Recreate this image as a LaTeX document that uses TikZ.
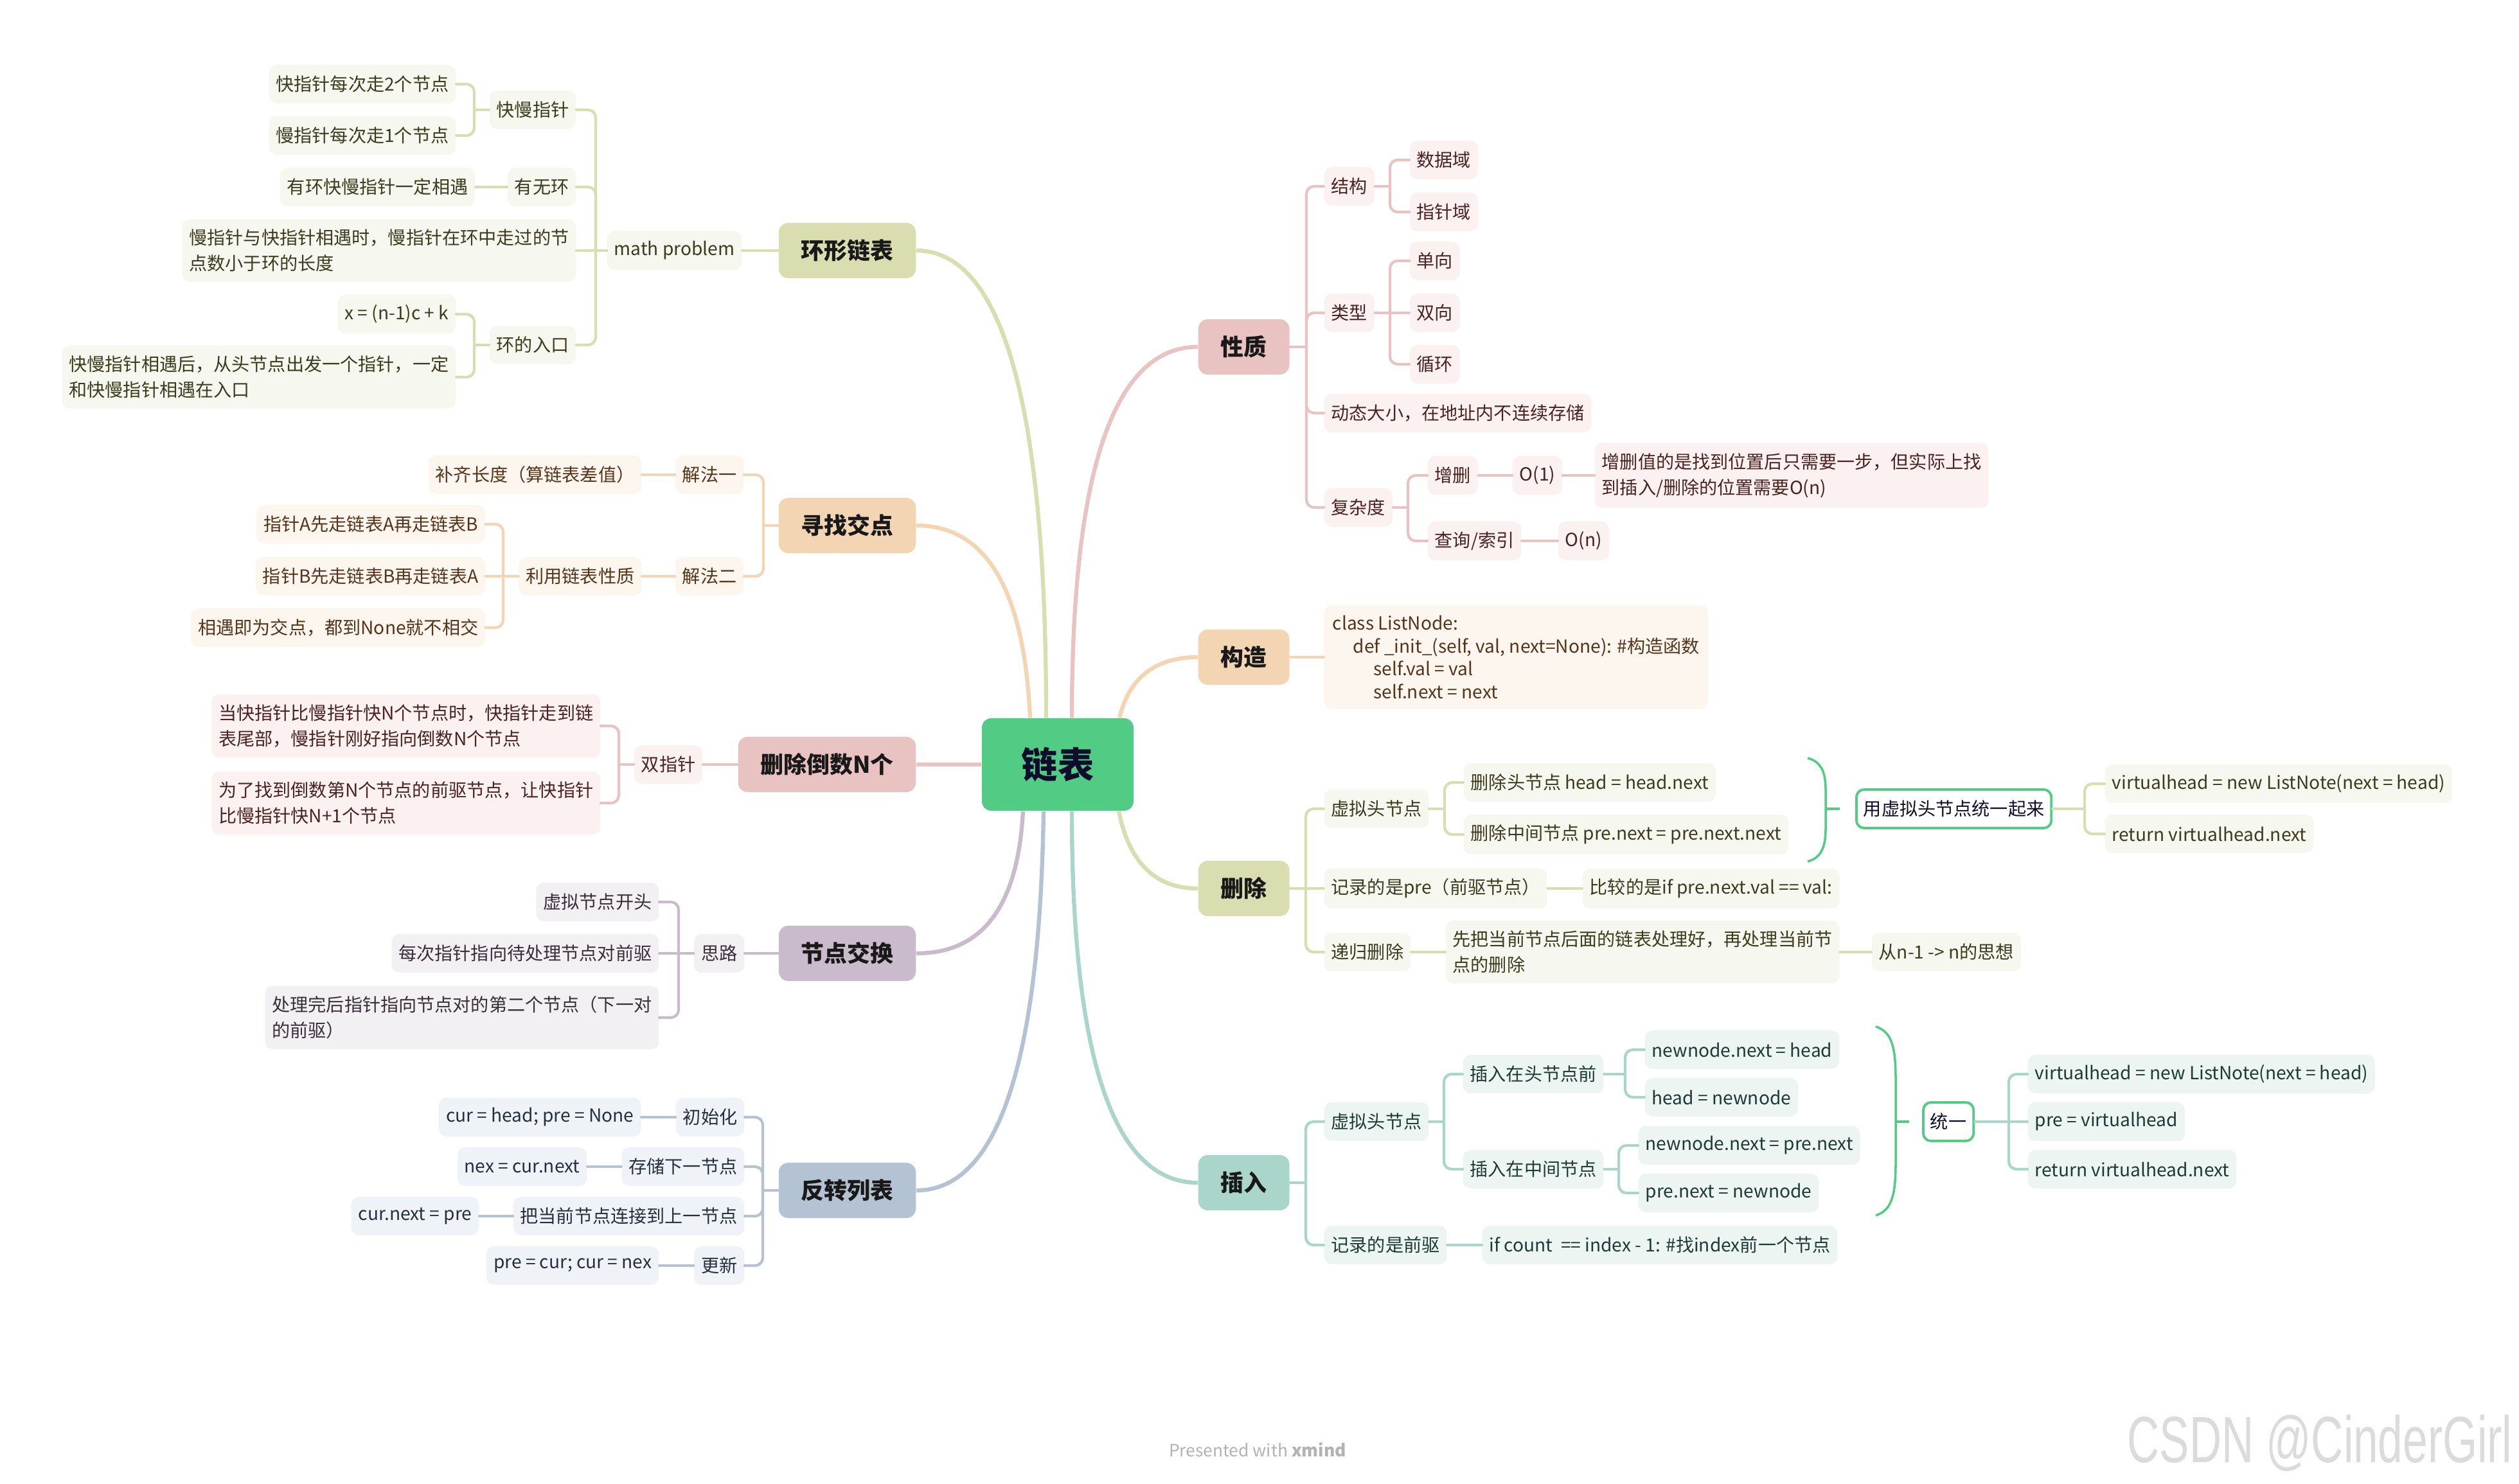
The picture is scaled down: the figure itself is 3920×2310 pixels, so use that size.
\documentclass[tikz,border=0pt]{standalone}
\usepackage{fontspec}
\setmainfont{Noto Sans CJK SC}
\newfontfamily\wmfont{Liberation Sans}

\definecolor{rootgreen}{HTML}{52CC85}
\definecolor{rootink}{HTML}{0E0E2C}
\definecolor{olmain}{HTML}{DADDAF}
\definecolor{olsub}{HTML}{F6F7EE}
\definecolor{olink}{HTML}{3C3B1E}
\definecolor{pemain}{HTML}{F3D5B4}
\definecolor{pesub}{HTML}{FDF6EF}
\definecolor{peink}{HTML}{55351A}
\definecolor{romain}{HTML}{E8C3C2}
\definecolor{rosub}{HTML}{FBF1F0}
\definecolor{roink}{HTML}{4B2222}
\definecolor{mvmain}{HTML}{C9BBCB}
\definecolor{mvsub}{HTML}{F3F0F3}
\definecolor{mvink}{HTML}{3A2D3A}
\definecolor{blmain}{HTML}{B3C3D4}
\definecolor{blsub}{HTML}{EFF2F6}
\definecolor{blink}{HTML}{243040}
\definecolor{temain}{HTML}{A9D5CB}
\definecolor{tesub}{HTML}{EDF5F3}
\definecolor{teink}{HTML}{1D3A33}

\tikzset{
    root/.style={rounded corners=0.15cm, fill=rootgreen, text=rootink, font=\bfseries\fontsize{16}{18}\selectfont, minimum width=2.36cm, minimum height=1.44cm},
    topic/.style={rounded corners=0.15cm, minimum height=0.86cm, inner xsep=0.35cm, font=\bfseries\fontsize{10.2}{12}\selectfont, text=black!90},
    leaf/.style={rounded corners=0.12cm, minimum height=0.6cm, inner xsep=0.11cm, inner ysep=0.16cm, font=\fontsize{8}{11.3}\selectfont, align=left},
    summ/.style={leaf, fill=white, draw=rootgreen, line width=1.1pt, text=rootink},
    bough/.style={line width=1.8pt},
    twig/.style={line width=1.2pt, rounded corners=0.12cm, line cap=round},
    brace/.style={draw=rootgreen, line width=1pt},
    olleaf/.style={leaf, fill=olsub, text=olink},
    peleaf/.style={leaf, fill=pesub, text=peink},
    roleaf/.style={leaf, fill=rosub, text=roink},
    mvleaf/.style={leaf, fill=mvsub, text=mvink},
    blleaf/.style={leaf, fill=blsub, text=blink},
    teleaf/.style={leaf, fill=tesub, text=teink},
    olline/.style={twig, draw=olmain},
    peline/.style={twig, draw=pemain},
    roline/.style={twig, draw=romain},
    mvline/.style={twig, draw=mvmain},
    blline/.style={twig, draw=blmain},
    teline/.style={twig, draw=temain},
}

\begin{document}
\begin{tikzpicture}[x=0.01cm, y=-0.01cm]
        \useasboundingbox (0,0) rectangle (3920,2310);
        \node[root] (root) at (1646,1190) {链表};

        % Left half: nodes hang from their right edge.
        \begin{scope}[every node/.append style={anchor=east}]
            % 环形链表
            \node[topic, fill=olmain] (hxlb) at (1426,390) {环形链表};
            \node[olleaf] (hxmath) at (1155,390) {math problem};
            \node[olleaf] (hxkm) at (897,171) {快慢指针};
            \node[olleaf] (hxkm2) at (710,131) {快指针每次走2个节点};
            \node[olleaf] (hxkm1) at (710,211) {慢指针每次走1个节点};
            \node[olleaf] (hxyw) at (897,291) {有无环};
            \node[olleaf] (hxyes) at (740,291) {有环快慢指针一定相遇};
            \node[olleaf] (hxlen) at (897,390) {慢指针与快指针相遇时，慢指针在环中走过的节\\点数小于环的长度};
            \node[olleaf] (hxrk) at (897,537) {环的入口};
            \node[olleaf] (hxeq) at (710,489) {x = (n-1)c + k};
            \node[olleaf] (hxmeet) at (710,587) {快慢指针相遇后，从头节点出发一个指针，一定\\和快慢指针相遇在入口};
            \coordinate (hxmathj) at (927,390);
            \coordinate (hxkmj) at (738,171);
            \coordinate (hxrkj) at (738,537);
            \draw[olline] (hxlb.west) -- (hxmath.east);
            \draw[olline] (hxmath.west) -- (hxlen.east);
            \draw[olline] (hxkm.east) -| (hxmathj);
            \draw[olline] (hxyw.east) -| (hxmathj);
            \draw[olline] (hxrk.east) -| (hxmathj);
            \draw[olline] (hxkm2.east) -| (hxkmj);
            \draw[olline] (hxkm1.east) -| (hxkmj);
            \draw[olline] (hxkmj) -- (hxkm.west);
            \draw[olline] (hxyes.east) -- (hxyw.west);
            \draw[olline] (hxeq.east) -| (hxrkj);
            \draw[olline] (hxmeet.east) -| (hxrkj);
            \draw[olline] (hxrkj) -- (hxrk.west);

            % 寻找交点
            \node[topic, fill=pemain] (jdlb) at (1426,818) {寻找交点};
            \node[peleaf] (jd1) at (1158,739) {解法一};
            \node[peleaf] (jdbq) at (999,739) {补齐长度（算链表差值）};
            \node[peleaf] (jd2) at (1158,897) {解法二};
            \node[peleaf] (jdxz) at (999,897) {利用链表性质};
            \node[peleaf] (jdA) at (756,816) {指针A先走链表A再走链表B};
            \node[peleaf] (jdB) at (756,897) {指针B先走链表B再走链表A};
            \node[peleaf] (jdN) at (756,977) {相遇即为交点，都到None就不相交};
            \coordinate (jdlbj) at (1188,818);
            \coordinate (jdxzj) at (783,897);
            \draw[peline] (jd1.east) -| (jdlbj);
            \draw[peline] (jd2.east) -| (jdlbj);
            \draw[peline] (jdlbj) -- (jdlb.west);
            \draw[peline] (jdbq.east) -- (jd1.west);
            \draw[peline] (jdxz.east) -- (jd2.west);
            \draw[peline] (jdA.east) -| (jdxzj);
            \draw[peline] (jdN.east) -| (jdxzj);
            \draw[peline] (jdB.east) -- (jdxz.west);

            % 删除倒数N个
            \node[topic, fill=romain] (sclb) at (1426,1190) {删除倒数N个};
            \node[roleaf] (scsz) at (1094,1190) {双指针};
            \node[roleaf] (scfast) at (935,1130) {当快指针比慢指针快N个节点时，快指针走到链\\表尾部，慢指针刚好指向倒数N个节点};
            \node[roleaf] (scprev) at (935,1250) {为了找到倒数第N个节点的前驱节点，让快指针\\比慢指针快N+1个节点};
            \coordinate (scszj) at (963,1190);
            \draw[roline] (sclb.west) -- (scsz.east);
            \draw[roline] (scfast.east) -| (scszj);
            \draw[roline] (scprev.east) -| (scszj);
            \draw[roline] (scszj) -- (scsz.west);

            % 节点交换
            \node[topic, fill=mvmain] (jhlb) at (1426,1484) {节点交换};
            \node[mvleaf] (jhsl) at (1159,1484) {思路};
            \node[mvleaf] (jhxn) at (1026,1404) {虚拟节点开头};
            \node[mvleaf] (jhmc) at (1026,1484) {每次指针指向待处理节点对前驱};
            \node[mvleaf] (jhcl) at (1026,1584) {处理完后指针指向节点对的第二个节点（下一对\\的前驱）};
            \coordinate (jhslj) at (1056,1484);
            \draw[mvline] (jhlb.west) -- (jhsl.east);
            \draw[mvline] (jhsl.west) -- (jhmc.east);
            \draw[mvline] (jhxn.east) -| (jhslj);
            \draw[mvline] (jhcl.east) -| (jhslj);

            % 反转列表
            \node[topic, fill=blmain] (fzlb) at (1426,1853) {反转列表};
            \node[blleaf] (fzcs) at (1159,1739) {初始化};
            \node[blleaf] (fzcsv) at (998,1739) {cur = head; pre = None};
            \node[blleaf] (fzcc) at (1159,1816) {存储下一节点};
            \node[blleaf] (fzccv) at (914,1816) {nex = cur.next};
            \node[blleaf] (fzlj) at (1159,1893) {把当前节点连接到上一节点};
            \node[blleaf] (fzljv) at (746,1893) {cur.next = pre};
            \node[blleaf] (fzgx) at (1159,1970) {更新};
            \node[blleaf] (fzgxv) at (1026,1970) {pre = cur; cur = nex};
            \coordinate (fzlbj) at (1187,1853);
            \draw[blline] (fzcs.east) -| (fzlbj);
            \draw[blline] (fzcc.east) -| (fzlbj);
            \draw[blline] (fzlj.east) -| (fzlbj);
            \draw[blline] (fzgx.east) -| (fzlbj);
            \draw[blline] (fzlbj) -- (fzlb.west);
            \draw[blline] (fzcsv.east) -- (fzcs.west);
            \draw[blline] (fzccv.east) -- (fzcc.west);
            \draw[blline] (fzljv.east) -- (fzlj.west);
            \draw[blline] (fzgxv.east) -- (fzgx.west);
        \end{scope}

        % Right half: nodes hang from their left edge.
        \begin{scope}[every node/.append style={anchor=west}]
            % 性质
            \node[topic, fill=romain] (xzlb) at (1864,540) {性质};
            \node[roleaf] (xzjg) at (2060,290) {结构};
            \node[roleaf] (xzsj) at (2193,249) {数据域};
            \node[roleaf] (xzzz) at (2193,330) {指针域};
            \node[roleaf] (xzlx) at (2060,487) {类型};
            \node[roleaf] (xzdx) at (2193,406) {单向};
            \node[roleaf] (xzsx) at (2193,487) {双向};
            \node[roleaf] (xzxh) at (2193,567) {循环};
            \node[roleaf] (xzdt) at (2060,643) {动态大小，在地址内不连续存储};
            \node[roleaf] (xzfz) at (2060,790) {复杂度};
            \node[roleaf] (xzzs) at (2221,740) {增删};
            \node[roleaf] (xzo1) at (2353,740) {O(1)};
            \node[roleaf] (xzsm) at (2481,740) {增删值的是找到位置后只需要一步，但实际上找\\到插入/删除的位置需要O(n)};
            \node[roleaf] (xzcx) at (2221,842) {查询/索引};
            \node[roleaf] (xzon) at (2424,842) {O(n)};
            \coordinate (xzlbj) at (2033,540);
            \coordinate (xzjgj) at (2163,290);
            \coordinate (xzlxj) at (2163,487);
            \coordinate (xzfzj) at (2191,790);
            \draw[roline] (xzlb.east) -- (xzlbj);
            \draw[roline] (xzjg.west) -| (xzlbj);
            \draw[roline] (xzlx.west) -| (xzlbj);
            \draw[roline] (xzdt.west) -| (xzlbj);
            \draw[roline] (xzfz.west) -| (xzlbj);
            \draw[roline] (xzjg.east) -- (xzjgj);
            \draw[roline] (xzsj.west) -| (xzjgj);
            \draw[roline] (xzzz.west) -| (xzjgj);
            \draw[roline] (xzlx.east) -- (xzsx.west);
            \draw[roline] (xzdx.west) -| (xzlxj);
            \draw[roline] (xzxh.west) -| (xzlxj);
            \draw[roline] (xzfz.east) -- (xzfzj);
            \draw[roline] (xzzs.west) -| (xzfzj);
            \draw[roline] (xzcx.west) -| (xzfzj);
            \draw[roline] (xzzs.east) -- (xzo1.west);
            \draw[roline] (xzo1.east) -- (xzsm.west);
            \draw[roline] (xzcx.east) -- (xzon.west);

            % 构造
            \node[topic, fill=pemain] (gzlb) at (1864,1023) {构造};
            \node[peleaf, font=\fontsize{8}{10.2}\selectfont, inner xsep=0.13cm] (gzcode) at (2060,1023) {class ListNode:\\
                \hspace*{0.32cm}def \_init\_(self, val, next=None): \#构造函数\\
                \hspace*{0.64cm}self.val = val\\
                \hspace*{0.64cm}self.next = next};
            \draw[peline] (gzlb.east) -- (gzcode.west);

            % 删除
            \node[topic, fill=olmain] (shlb) at (1864,1383) {删除};
            \node[olleaf] (shxn) at (2060,1259) {虚拟头节点};
            \node[olleaf] (shhead) at (2277,1218) {删除头节点 head = head.next};
            \node[olleaf] (shmid) at (2277,1299) {删除中间节点 pre.next = pre.next.next};
            \node[olleaf] (shjl) at (2060,1383) {记录的是pre（前驱节点）};
            \node[olleaf] (shcmp) at (2462,1383) {比较的是if pre.next.val == val:};
            \node[olleaf] (shdg) at (2060,1482) {递归删除};
            \node[olleaf] (shfirst) at (2249,1482) {先把当前节点后面的链表处理好，再处理当前节\\点的删除};
            \node[olleaf] (shidea) at (2912,1482) {从n-1 -> n的思想};
            \node[summ] (shsum) at (2887,1259) {用虚拟头节点统一起来};
            \node[olleaf] (shvh) at (3275,1220) {virtualhead = new ListNote(next = head)};
            \node[olleaf] (shret) at (3275,1298) {return virtualhead.next};
            \coordinate (shlbj) at (2032,1383);
            \coordinate (shxnj) at (2248,1259);
            \coordinate (shsumj) at (3244,1259);
            \coordinate (shbrace) at (2841,1259);
            \draw[olline] (shlb.east) -- (shjl.west);
            \draw[olline] (shxn.west) -| (shlbj);
            \draw[olline] (shdg.west) -| (shlbj);
            \draw[olline] (shxn.east) -- (shxnj);
            \draw[olline] (shhead.west) -| (shxnj);
            \draw[olline] (shmid.west) -| (shxnj);
            \draw[olline] (shjl.east) -- (shcmp.west);
            \draw[olline] (shdg.east) -- (shfirst.west);
            \draw[olline] (shfirst.east) -- (shidea.west);
            \draw[olline] (shsum.east) -- (shsumj);
            \draw[olline] (shvh.west) -| (shsumj);
            \draw[olline] (shret.west) -| (shsumj);
            % the summary bracket
            \draw[brace] (2813,1180) .. controls (2836,1186) and (2841,1205) .. (2841,1230) -- (2841,1290) .. controls (2841,1315) and (2836,1335) .. (2813,1341);
            \draw[brace] (shbrace) -- ++(22,0);

            % 插入
            \node[topic, fill=temain] (crlb) at (1864,1841) {插入};
            \node[teleaf] (crxn) at (2060,1746) {虚拟头节点};
            \node[teleaf] (crtq) at (2276,1672) {插入在头节点前};
            \node[teleaf] (crn1) at (2559,1634) {newnode.next = head};
            \node[teleaf] (crn2) at (2559,1708) {head = newnode};
            \node[teleaf] (crzj) at (2276,1820) {插入在中间节点};
            \node[teleaf] (crn3) at (2549,1783) {newnode.next = pre.next};
            \node[teleaf] (crn4) at (2549,1857) {pre.next = newnode};
            \node[teleaf] (crjl) at (2060,1938) {记录的是前驱};
            \node[teleaf] (crif) at (2306,1938) {if count\ \ == index - 1: \#找index前一个节点};
            \node[summ] (crsum) at (2991,1746) {统一};
            \node[teleaf] (crvh) at (3155,1672) {virtualhead = new ListNote(next = head)};
            \node[teleaf] (crpre) at (3155,1746) {pre = virtualhead};
            \node[teleaf] (crret) at (3155,1820) {return virtualhead.next};
            \coordinate (crlbj) at (2032,1841);
            \coordinate (crxnj) at (2247,1746);
            \coordinate (crtqj) at (2529,1672);
            \coordinate (crzjj) at (2519,1820);
            \coordinate (crsumj) at (3126,1746);
            \coordinate (crbrace) at (2950,1746);
            \draw[teline] (crxn.west) -| (crlbj);
            \draw[teline] (crjl.west) -| (crlbj);
            \draw[teline] (crlbj) -- (crlb.east);
            \draw[teline] (crxn.east) -- (crxnj);
            \draw[teline] (crtq.west) -| (crxnj);
            \draw[teline] (crzj.west) -| (crxnj);
            \draw[teline] (crtq.east) -- (crtqj);
            \draw[teline] (crn1.west) -| (crtqj);
            \draw[teline] (crn2.west) -| (crtqj);
            \draw[teline] (crzj.east) -- (crzjj);
            \draw[teline] (crn3.west) -| (crzjj);
            \draw[teline] (crn4.west) -| (crzjj);
            \draw[teline] (crjl.east) -- (crif.west);
            \draw[teline] (crsum.east) -- (crsumj);
            \draw[teline] (crvh.west) -| (crsumj);
            \draw[teline] (crret.west) -| (crsumj);
            \draw[teline] (crsumj) -- (crpre.west);
            % the summary bracket
            \draw[brace] (2919,1598) .. controls (2944,1606) and (2950,1630) .. (2950,1680) -- (2950,1810) .. controls (2950,1860) and (2944,1884) .. (2919,1892);
            \draw[brace] (crbrace) -- ++(21,0);
        \end{scope}

        % Curves from the centre to the main topics.
        \draw[bough, draw=olmain] ([xshift=-0.18cm]root.north) .. controls (1628,633) and (1561,390) .. (hxlb.east);
        \draw[bough, draw=pemain] ([xshift=-0.43cm]root.north) .. controls (1594,919) and (1535,818) .. (jdlb.east);
        \draw[bough, draw=romain] (root.west) -- (sclb.east);
        \draw[bough, draw=mvmain] ([xshift=-0.54cm]root.south) .. controls (1584,1411) and (1529,1484) .. (jhlb.east);
        \draw[bough, draw=blmain] ([xshift=-0.22cm]root.south) .. controls (1618,1657) and (1552,1853) .. (fzlb.east);
        \draw[bough, draw=romain] ([xshift=0.22cm]root.north) .. controls (1668,733) and (1733,540) .. (xzlb.west);
        \draw[bough, draw=pemain] ([xshift=0.96cm]root.north) .. controls (1757,1055) and (1798,1023) .. (gzlb.west);
        \draw[bough, draw=olmain] ([xshift=0.95cm]root.south) .. controls (1757,1343) and (1798,1383) .. (shlb.west);
        \draw[bough, draw=temain] ([xshift=0.22cm]root.south) .. controls (1668,1648) and (1733,1841) .. (crlb.west);

        % Footer texts.
        \node[font=\fontsize{7.5}{9}\selectfont, text=black!30] (credit) at (1957,2257) {Presented with \textbf{xmind}};
        \node[font=\wmfont\fontsize{29}{30}\selectfont, text=black!14] (mark) at (3610,2247) {\scalebox{0.68}[1]{CSDN @CinderGirl}};
\end{tikzpicture}
\end{document}
